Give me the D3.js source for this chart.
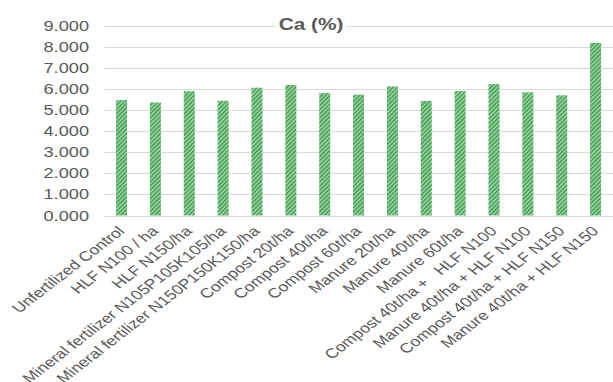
<!DOCTYPE html>
<html>
<head>
<meta charset="utf-8">
<script src="https://cdn.jsdelivr.net/npm/d3@7"></script>
<style>
  html, body { margin: 0; padding: 0; background: #fff; overflow: hidden; }
  svg { display: block; font-family: "Liberation Sans", Arial, sans-serif; }
</style>
</head>
<body>
<svg id="chart" width="613" height="382"></svg>
<script>
// Treatments along the x axis
const categories = [
  "Unfertilized Control",
  "HLF N100 / ha",
  "HLF N150/ha",
  "Mineral fertilizer N105P105K105/ha",
  "Mineral fertilizer N150P150K150/ha",
  "Compost 20t/ha",
  "Compost 40t/ha",
  "Compost 60t/ha",
  "Manure 20t/ha",
  "Manure 40t/ha",
  "Manure 60t/ha",
  "Compost 40t/ha +   HLF N100",
  "Manure 40t/ha + HLF N100",
  "Compost 40t/ha + HLF N150",
  "Manure 40t/ha + HLF N150"
];

// Ca content (%) per treatment
const caValues = [5.48, 5.37, 5.90, 5.45, 6.07, 6.20, 5.82, 5.74, 6.13, 5.44, 5.91, 6.24, 5.85, 5.71, 8.20];

// Value axis ticks
const yTicks = [0, 1, 2, 3, 4, 5, 6, 7, 8, 9];

const title = "Ca (%)";

const svg = d3.select("#chart");
const textColor = "#595959";
const gridColor = "#d9d9d9";
const sx = 1.3; // horizontal stretch applied to text glyphs

// Striped fill for the bars
const defs = svg.append("defs");
const pat = defs.append("pattern")
  .attr("id", "stripes")
  .attr("patternUnits", "userSpaceOnUse")
  .attr("width", 3)
  .attr("height", 3)
  .attr("patternTransform", "rotate(45)");
pat.append("rect").attr("width", 3).attr("height", 3).attr("fill", "#a6dbac");
pat.append("rect").attr("width", 1.5).attr("height", 3).attr("fill", "#3a984a");

const x = d3.scaleBand()
  .domain(categories)
  .range([104.6, 612.5])
  .paddingInner(0.675)
  .paddingOuter(0.3375);

const y = d3.scaleLinear().domain([0, 9]).range([215.5, 26]);

// Gridlines
svg.append("g")
  .selectAll("line")
  .data(yTicks)
  .join("line")
  .attr("x1", 104.6)
  .attr("x2", 613)
  .attr("y1", d => Math.round(y(d)) + 0.5)
  .attr("y2", d => Math.round(y(d)) + 0.5)
  .attr("stroke", gridColor)
  .attr("stroke-width", 1.2);

// Y tick labels
svg.append("g")
  .selectAll("text")
  .data(yTicks)
  .join("text")
  .attr("transform", d => `translate(89,${y(d)}) scale(${sx},1)`)
  .attr("dy", "0.36em")
  .attr("text-anchor", "end")
  .attr("font-size", 14)
  .attr("fill", textColor)
  .text(d3.format(".3f"));

// Bars
svg.append("g")
  .selectAll("rect")
  .data(categories)
  .join("rect")
  .attr("x", d => x(d))
  .attr("width", x.bandwidth())
  .attr("y", (d, i) => y(caValues[i]))
  .attr("height", (d, i) => y(0) - y(caValues[i]))
  .attr("fill", "url(#stripes)");

// Category labels, rotated
svg.append("g")
  .selectAll("text")
  .data(categories)
  .join("text")
  .attr("transform", d => `translate(${x(d) + x.bandwidth() / 2 + 4},232) scale(${sx},1) rotate(-45)`)
  .attr("text-anchor", "end")
  .attr("font-size", 13.6)
  .attr("fill", textColor)
  .style("white-space", "pre")
  .text(d => d);

// Title with a white backing over the top gridline
const tg = svg.append("g");
tg.append("rect")
  .attr("x", 276).attr("y", 14).attr("width", 70).attr("height", 20)
  .attr("fill", "#fff");
tg.append("text")
  .attr("transform", `translate(311,29.5) scale(${sx},1)`)
  .attr("text-anchor", "middle")
  .attr("font-size", 16)
  .attr("font-weight", "bold")
  .attr("fill", textColor)
  .text(title);
</script>
</body>
</html>
